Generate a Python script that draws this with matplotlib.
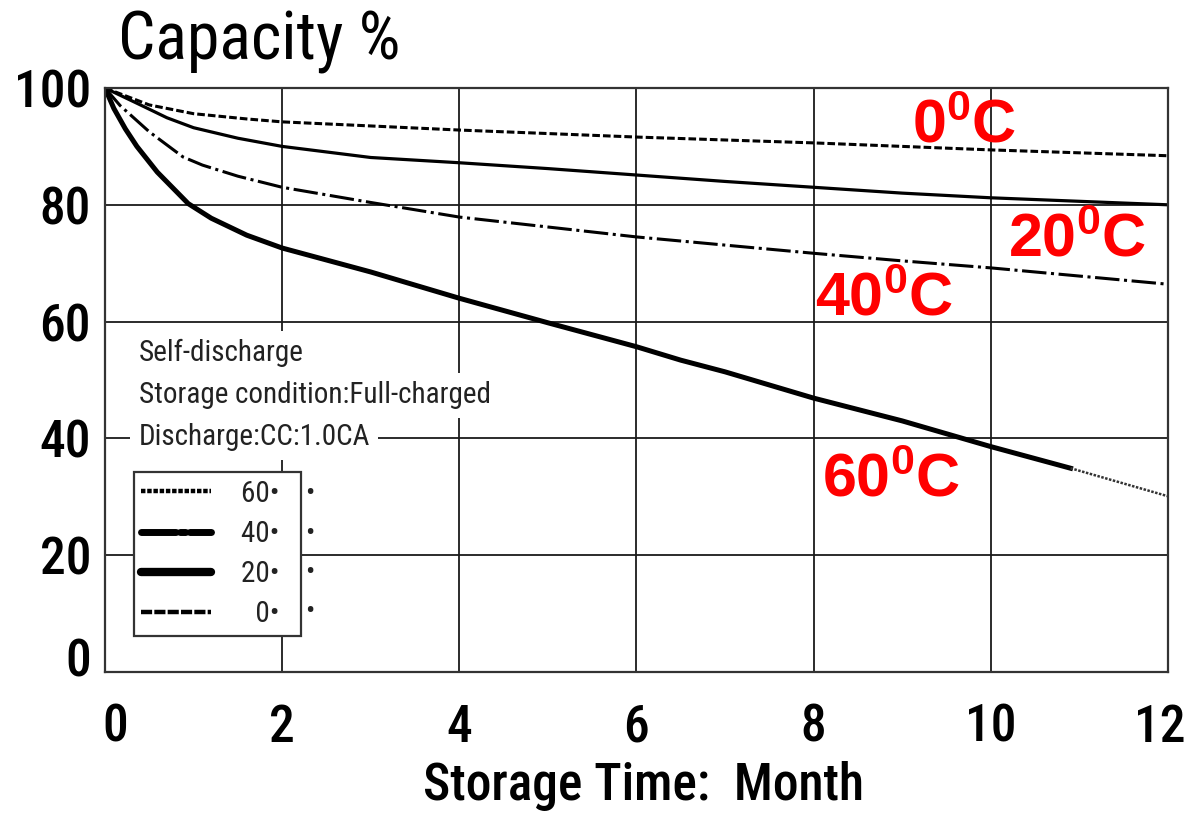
# self_discharge.py
import matplotlib
matplotlib.use("Agg")
import matplotlib.pyplot as plt
import matplotlib.transforms as mtransforms
from matplotlib.lines import Line2D

NARROW = ["Liberation Sans Narrow", "Arial Narrow", "Roboto Condensed", "Archivo Narrow",
          "Fira Sans Condensed", "DejaVu Sans"]
plt.rcParams["font.family"] = NARROW
plt.rcParams["mathtext.fontset"] = "custom"
plt.rcParams["mathtext.rm"] = "Liberation Sans"
plt.rcParams["mathtext.bf"] = "Liberation Sans:bold"

# 讀圖估計的數值 (月, 容量%)
months_0 = [0, 0.5, 1, 1.6, 2, 4, 6, 8, 10, 12]
cap_0 = [100, 97.1, 95.6, 94.7, 94.2, 92.8, 91.6, 90.6, 89.4, 88.4]

months_20 = [0, 0.4, 0.7, 1, 1.5, 2, 3, 4, 5, 6, 7, 8, 9, 10, 11, 12]
cap_20 = [100, 97.1, 94.9, 93.2, 91.4, 90.0, 88.1, 87.2, 86.2, 85.1, 84.0, 83.0, 82.0, 81.2, 80.6, 80.0]

months_40 = [0, 0.17, 0.5, 0.88, 1.1, 1.5, 2, 3, 4, 5, 6, 7, 8, 9, 10, 11, 12]
cap_40 = [100, 97.0, 92.5, 88.2, 86.8, 84.9, 83.0, 80.4, 77.9, 76.2, 74.5, 73.1, 71.7, 70.4, 69.2, 67.8, 66.4]

months_60 = [0, 0.1, 0.23, 0.36, 0.59, 0.94, 1.2, 1.6, 2, 3, 4, 5, 6, 6.5, 7, 8, 9, 10, 10.9]
cap_60 = [100, 96.5, 93.0, 90.0, 85.6, 80.2, 77.7, 74.8, 72.6, 68.5, 64.0, 59.8, 55.7, 53.4, 51.4, 46.9, 43.0, 38.6, 34.9]
months_60_tail = [10.9, 12]
cap_60_tail = [34.9, 30.1]

x_ticks = [0, 2, 4, 6, 8, 10, 12]
y_ticks = [0, 20, 40, 60, 80, 100]

legend_labels = ["60•\u2007", "40•\u2007", "20•\u2007", "\u20070•\u2007"]
notes = ["Self-discharge", "Storage condition:Full-charged", "Discharge:CC:1.0CA"]
temp_labels = [r"$\mathbf{0^{0}C}$", r"$\mathbf{20^{0}C}$", r"$\mathbf{40^{0}C}$", r"$\mathbf{60^{0}C}$"]

fig = plt.figure(figsize=(11.89, 8.14), dpi=100)
ax = fig.add_axes([0.0883, 0.1744, 0.894, 0.7175])

ax.set_xlim(0, 12)
ax.set_ylim(0, 100)
ax.set_xticks(x_ticks)
ax.set_yticks(y_ticks)
ax.tick_params(length=0, labelsize=37)
ax.tick_params(axis="x", pad=22)
ax.tick_params(axis="y", pad=10)
for lab in ax.get_xticklabels() + ax.get_yticklabels():
    lab.set_fontweight("medium")

# 邊界刻度標籤微調位置
def shift_label(tick, dx, dy):
    off = mtransforms.ScaledTranslation(dx / 100, dy / 100, fig.dpi_scale_trans)
    tick.label1.set_transform(tick.label1.get_transform() + off)

xt = ax.xaxis.get_major_ticks()
yt = ax.yaxis.get_major_ticks()
shift_label(xt[0], 10, 0)
shift_label(xt[-1], -8, 0)
shift_label(yt[0], 0, 15)

ax.grid(True, color="#1a1a1a", linewidth=1.3)
ax.set_axisbelow(True)
for sp in ax.spines.values():
    sp.set_color("#333333")
    sp.set_linewidth(1.6)

# 曲線
ax.plot(months_0, cap_0, color="black", lw=2.2, linestyle=(0, (2.5, 1.0)))
ax.plot(months_20, cap_20, color="black", lw=2.3)
ax.plot(months_40, cap_40, color="black", lw=2.2, linestyle=(0, (8, 1.5, 1, 1.5)))
ax.plot(months_60, cap_60, color="black", lw=3.6)
ax.plot(months_60_tail, cap_60_tail, color="#333333", lw=1.8, linestyle=(0, (1, 0.6)))

# 紅色溫度標籤
temp_pos = [(9.11, 90.6), (10.19, 71.1), (8.01, 61.1), (8.10, 30.0)]
for (tx, ty), lab in zip(temp_pos, temp_labels):
    ax.text(tx, ty, lab, color="red", fontsize=44, ha="left", va="baseline", zorder=5)

# 說明文字
note_y = [54.6, 47.4, 40.2]
for ny, txt in zip(note_y, notes):
    ax.text(0.38, ny, txt, fontsize=21, color="#222222", ha="left", va="center",
            bbox=dict(facecolor="white", edgecolor="none", pad=6), zorder=4)

# 圖例
handles = [
    Line2D([], [], color="black", lw=3.2, linestyle=(0, (1, 0.4))),
    Line2D([], [], color="black", lw=5, linestyle=(0, (5, 0.6, 0.8, 0.6)), dash_capstyle="round"),
    Line2D([], [], color="black", lw=6, solid_capstyle="round"),
    Line2D([], [], color="black", lw=3.2, linestyle=(0, (2.5, 0.5))),
]
leg = ax.legend(handles, legend_labels, loc="upper left", bbox_to_anchor=(0.328, 34.2),
                bbox_transform=ax.transData, fontsize=21, handlelength=2.4,
                handletextpad=1.0, labelspacing=0.42, borderpad=0.25, borderaxespad=0,
                fancybox=False, framealpha=1, edgecolor="#333333")
leg.get_frame().set_linewidth(1.6)
leg.set_zorder(6)
for t in leg.get_texts():
    t.set_color("#222222")

dot_y = [30.65, 23.8, 17.1, 10.3]
for dy in dot_y:
    ax.text(2.31, dy, "•", fontsize=20, color="#222222", ha="center", va="center", zorder=6)

fig.text(259 / 1189, 1 - 60 / 814, "Capacity %", fontsize=47.5, ha="center", va="baseline")
fig.text(644 / 1189, 1 - 800 / 814, "Storage Time:  Month", fontsize=37,
         fontweight="medium", ha="center", va="baseline")

fig.savefig("out.png", dpi=100)
